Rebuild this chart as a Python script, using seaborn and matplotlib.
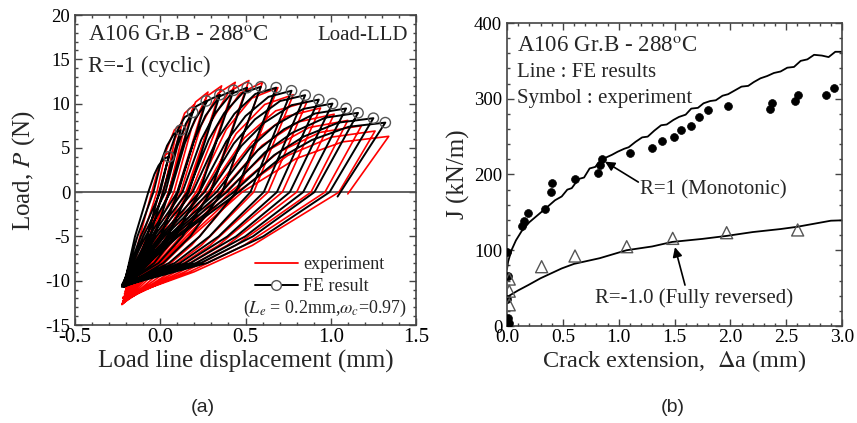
import matplotlib
matplotlib.use("Agg")
import matplotlib.pyplot as plt
import matplotlib.ticker as plticker
from matplotlib.lines import Line2D
import seaborn as sns

sns.set_style("ticks")
plt.rcParams["font.family"] = ["Liberation Serif", "DejaVu Serif"]
plt.rcParams["mathtext.fontset"] = "stix"
plt.rcParams["axes.unicode_minus"] = False
plt.rcParams["axes.edgecolor"] = "#444444"
plt.rcParams["xtick.color"] = "#444444"
plt.rcParams["ytick.color"] = "#444444"
plt.rcParams["xtick.labelcolor"] = "black"
plt.rcParams["ytick.labelcolor"] = "black"

# ---------------- (a) cyclic load - LLD ----------------
# FE result, one row per cycle: start (bottom), loading branch, peak, unloading branch
fe_bot_x = [-0.21, -0.215, -0.22, -0.22, -0.225, -0.225, -0.22, -0.22, -0.215,
            -0.22, -0.225, -0.22, -0.215, -0.22, -0.22, -0.215, -0.22]
fe_bot_y = [-10.3, -10.4, -10.5, -10.6, -10.5, -10.7, -10.6, -10.5, -10.7,
            -10.6, -10.5, -10.6, -10.7, -10.5, -10.6, -10.5, -10.6]
fe_load_x = [[-0.148, -0.07, -0.035, -0.01, 0.02],
             [-0.134, -0.04, 0.006, 0.04, 0.08],
             [-0.114, 0.0, 0.055, 0.095, 0.143],
             [-0.10, 0.03, 0.10, 0.15, 0.21],
             [-0.086, 0.06, 0.144, 0.205, 0.278],
             [-0.066, 0.10, 0.196, 0.265, 0.348],
             [-0.052, 0.13, 0.24, 0.32, 0.415],
             [-0.038, 0.16, 0.285, 0.375, 0.483],
             [-0.023, 0.19, 0.332, 0.435, 0.558],
             [-0.004, 0.23, 0.387, 0.50, 0.635],
             [0.01, 0.26, 0.431, 0.555, 0.703],
             [0.025, 0.29, 0.476, 0.61, 0.77],
             [0.044, 0.33, 0.527, 0.67, 0.84],
             [0.058, 0.36, 0.572, 0.725, 0.908],
             [0.073, 0.39, 0.613, 0.775, 0.968],
             [0.092, 0.43, 0.668, 0.84, 1.045],
             [0.106, 0.46, 0.709, 0.89, 1.105]]
fe_load_y = [[-5, 0, 2.0, 3.0, 3.76],
             [-5, 0, 3.5, 5.25, 6.58],
             [-5, 0, 4.5, 6.75, 8.46],
             [-5, 0, 5.15, 7.73, 9.68],
             [-5, 0, 5.5, 8.25, 10.34],
             [-5, 0, 5.75, 8.63, 10.81],
             [-5, 0, 5.9, 8.85, 11.09],
             [-5, 0, 5.95, 8.93, 11.19],
             [-5, 0, 5.9, 8.85, 11.09],
             [-5, 0, 5.73, 8.59, 10.76],
             [-5, 0, 5.48, 8.21, 10.29],
             [-5, 0, 5.23, 7.84, 9.82],
             [-5, 0, 5.0, 7.5, 9.4],
             [-5, 0, 4.73, 7.09, 8.88],
             [-5, 0, 4.48, 6.71, 8.41],
             [-5, 0, 4.18, 6.26, 7.85],
             [-5, 0, 3.93, 5.89, 7.38]]
fe_peak_x = [0.05, 0.12, 0.19, 0.27, 0.35, 0.43, 0.51, 0.59, 0.68,
             0.77, 0.85, 0.93, 1.01, 1.09, 1.16, 1.25, 1.32]
fe_peak_y = [4.0, 7.0, 9.0, 10.3, 11.0, 11.5, 11.8, 11.9, 11.8,
             11.45, 10.95, 10.45, 10.0, 9.45, 8.95, 8.35, 7.85]
fe_unload_x = [[-0.007, -0.075, -0.133], [0.016, -0.06, -0.124],
               [0.052, -0.035, -0.109], [0.105, 0.001, -0.087],
               [0.167, 0.043, -0.062], [0.23, 0.086, -0.036],
               [0.295, 0.13, -0.01], [0.363, 0.176, 0.018],
               [0.444, 0.231, 0.051], [0.529, 0.289, 0.085],
               [0.607, 0.342, 0.117], [0.684, 0.394, 0.148],
               [0.76, 0.445, 0.179], [0.838, 0.498, 0.211],
               [0.904, 0.543, 0.238], [0.993, 0.604, 0.274],
               [1.04]]
fe_unload_y = [[0, -5, -8]] * 16 + [[-0.5]]

# experiment
exp_bot_x = [-0.20, -0.205, -0.21, -0.21, -0.215, -0.215, -0.22, -0.22, -0.22,
             -0.225, -0.22, -0.225, -0.22, -0.22, -0.215, -0.22, -0.22]
exp_bot_y = [-10.8, -11.2, -11.5, -11.8, -12.0, -12.2, -12.4, -12.5, -12.6,
             -12.7, -12.5, -12.6, -12.4, -12.3, -12.2, -12.0, -11.9]
exp_load_x = [[-0.05, -0.01, 0.025], [-0.02, 0.035, 0.083], [0.02, 0.086, 0.143],
              [0.05, 0.135, 0.207], [0.08, 0.183, 0.272], [0.12, 0.238, 0.339],
              [0.15, 0.286, 0.403], [0.18, 0.335, 0.467], [0.21, 0.387, 0.538],
              [0.25, 0.445, 0.613], [0.28, 0.493, 0.677], [0.31, 0.542, 0.741],
              [0.35, 0.597, 0.808], [0.38, 0.645, 0.872], [0.41, 0.693, 0.937],
              [0.45, 0.748, 1.004], [0.48, 0.796, 1.068]]
exp_load_y = [[0, 2.76, 4.14], [0, 4.68, 7.02], [0, 5.94, 8.91], [0, 6.78, 10.17],
              [0, 7.2, 10.8], [0, 7.44, 11.16], [0, 7.56, 11.34], [0, 7.44, 11.16],
              [0, 7.08, 10.62], [0, 6.6, 9.9], [0, 6.12, 9.18], [0, 5.7, 8.55],
              [0, 5.28, 7.92], [0, 4.86, 7.29], [0, 4.5, 6.75], [0, 4.14, 6.21],
              [0, 3.78, 5.67]]
exp_peak_x = [0.06, 0.13, 0.20, 0.28, 0.36, 0.44, 0.52, 0.60, 0.69,
              0.78, 0.86, 0.94, 1.02, 1.10, 1.18, 1.26, 1.34]
exp_peak_y = [4.6, 7.8, 9.9, 11.3, 12.0, 12.4, 12.6, 12.4, 11.8,
              11.0, 10.2, 9.5, 8.8, 8.1, 7.5, 6.9, 6.3]
exp_unload_x = [[-0.006, -0.092, -0.15], [0.014, -0.08, -0.143],
                [0.048, -0.059, -0.131], [0.099, -0.029, -0.115],
                [0.16, 0.008, -0.095], [0.224, 0.046, -0.074],
                [0.291, 0.087, -0.051], [0.364, 0.13, -0.028],
                [0.454, 0.184, 0.002], [0.548, 0.241, 0.034],
                [0.633, 0.292, 0.062], [0.716, 0.342, 0.089],
                [0.80, 0.392, 0.117], [0.884, 0.442, 0.144],
                [0.966, 0.492, 0.172], [1.048, 0.541, 0.198],
                [1.10]]
exp_unload_y = [[0, -6, -9]] * 16 + [[-0.2]]

# ---------------- (b) J-R curves ----------------
mono_fe_x = [0.0, 0.01, 0.04, 0.08, 0.13, 0.20, 0.28, 0.36, 0.43, 0.49, 0.54, 0.58,
             0.64, 0.69, 0.74, 0.79, 0.84, 0.88, 0.94, 0.99, 1.05, 1.09, 1.15, 1.21,
             1.26, 1.32, 1.38, 1.43, 1.49, 1.54, 1.60, 1.65, 1.71, 1.76, 1.82, 1.87,
             1.93, 1.98, 2.04, 2.10, 2.16, 2.21, 2.27, 2.33, 2.39, 2.45, 2.51, 2.57,
             2.63, 2.69, 2.75, 2.82, 2.88, 2.94, 3.0]
mono_fe_j = [75, 85, 100, 113, 125, 137, 147, 157, 166, 171, 180, 182,
             194, 196, 208, 210, 219, 222, 226, 230, 234, 236, 243, 249,
             250, 258, 265, 266, 272, 276, 279, 287, 288, 294, 297, 298,
             304, 306, 311, 316, 317, 322, 327, 330, 334, 336, 341, 342,
             350, 352, 358, 357, 355, 362, 362]
rev_fe_x = [0.0, 0.02, 0.1, 0.19, 0.3, 0.49, 0.6, 0.83, 1.07, 1.3, 1.48, 1.75,
            1.97, 2.2, 2.45, 2.6, 2.9, 3.0]
rev_fe_j = [36, 40, 47, 54, 63, 76, 82, 89.5, 100, 105, 111, 115,
            119, 124, 128, 131, 139, 139.5]
mono_exp_x = [0.0, 0.005, 0.0, 0.01, 0.015, 0.131, 0.155, 0.191, 0.34, 0.394, 0.40,
              0.609, 0.812, 0.833, 0.848, 1.10, 1.296, 1.385, 1.496, 1.558, 1.645,
              1.72, 1.803, 1.982, 2.355, 2.376, 2.579, 2.609, 2.854, 2.928]
mono_exp_j = [98, 66, 36, 10, 4, 132, 138.6, 148.7, 154, 177.3, 188.4,
              193.6, 201.5, 212.5, 221, 228, 234.6, 244, 249, 258.7, 264.4,
              276.4, 285, 290.4, 286, 294, 297, 305, 305, 314]
rev_exp_x = [0.02, 0.02, 0.02, 0.31, 0.609, 1.072, 1.484, 1.967, 2.603]
rev_exp_j = [62, 46, 28, 78.3, 92.4, 104.7, 115.7, 123.2, 126.8]


def cycle_path(bot_x, bot_y, load_x, load_y, peak_x, peak_y, unload_x, unload_y):
    xs, ys = [], []
    for k in range(len(peak_x)):
        xs += [bot_x[k]] + load_x[k] + [peak_x[k]] + unload_x[k]
        ys += [bot_y[k]] + load_y[k] + [peak_y[k]] + unload_y[k]
    return xs, ys


def style_axes(ax_, fs_x, fs_y):
    ax_.tick_params(which="both", direction="in", top=True, right=True, width=1.0)
    ax_.tick_params(which="major", length=5)
    ax_.tick_params(which="minor", length=2.5)
    ax_.tick_params(axis="x", labelsize=fs_x, pad=2)
    ax_.tick_params(axis="y", labelsize=fs_y, pad=3.5)
    for sp in ax_.spines.values():
        sp.set_linewidth(1.2)


fig = plt.figure(figsize=(8.57, 4.23), dpi=100)

# ---- panel (a)
ax_a = fig.add_axes([75 / 857, 98 / 423, 341 / 857, 310 / 423])
ax_a.axhline(0, color="#555555", lw=1.3, zorder=1)
ex_x, ex_y = cycle_path(exp_bot_x, exp_bot_y, exp_load_x, exp_load_y,
                        exp_peak_x, exp_peak_y, exp_unload_x, exp_unload_y)
sns.lineplot(x=ex_x, y=ex_y, sort=False, estimator=None, ax=ax_a,
             color="#ff0000", lw=1.2, zorder=2)
fe_x, fe_y = cycle_path(fe_bot_x, fe_bot_y, fe_load_x, fe_load_y,
                        fe_peak_x, fe_peak_y, fe_unload_x, fe_unload_y)
sns.lineplot(x=fe_x, y=fe_y, sort=False, estimator=None, ax=ax_a,
             color="black", lw=1.4, zorder=3)
sns.scatterplot(x=fe_peak_x, y=fe_peak_y, ax=ax_a, marker="o", s=55,
                facecolor="none", edgecolor="#555555", linewidth=1.0, zorder=4)
ax_a.set_xlim(-0.5, 1.5)
ax_a.set_ylim(-15, 20)
ax_a.xaxis.set_major_locator(plticker.MultipleLocator(0.5))
ax_a.xaxis.set_minor_locator(plticker.MultipleLocator(0.1))
ax_a.yaxis.set_major_locator(plticker.MultipleLocator(5))
ax_a.yaxis.set_minor_locator(plticker.MultipleLocator(1))
ax_a.xaxis.set_major_formatter(plticker.FormatStrFormatter("%.1f"))
style_axes(ax_a, 15, 13.5)
ax_a.set_xlabel("Load line displacement (mm)", fontsize=18, labelpad=2)
ax_a.set_ylabel("Load, $P$ (N)", fontsize=18, labelpad=6)
ax_a.text(0.038, 0.935, r"A106 Gr.B - 288$^{\mathrm{o}}$C", transform=ax_a.transAxes,
          fontsize=16.5, va="center", ha="left")
ax_a.text(0.038, 0.835, "R=-1 (cyclic)", transform=ax_a.transAxes,
          fontsize=16.5, va="center", ha="left")
ax_a.text(0.977, 0.935, "Load-LLD", transform=ax_a.transAxes,
          fontsize=15, va="center", ha="right")
handles = [Line2D([], [], color="#ff0000", lw=1.3),
           Line2D([], [], color="black", lw=1.4, marker="o", markersize=7,
                  markerfacecolor="white", markeredgecolor="#555555")]
ax_a.legend(handles, ["experiment", "FE result"], loc="upper left",
            bbox_to_anchor=(0.5, 0.252), frameon=False, fontsize=13,
            handlelength=2.4, handletextpad=0.3, borderpad=0, labelspacing=0.3)
ax_a.text(0.975, 0.055, r"($L_e$ = 0.2mm,$\omega_c$=0.97)", transform=ax_a.transAxes,
          fontsize=13, va="center", ha="right")

# ---- panel (b)
ax_b = fig.add_axes([507 / 857, 97 / 423, 335 / 857, 303 / 423])
sns.lineplot(x=mono_fe_x, y=mono_fe_j, sort=False, estimator=None, ax=ax_b,
             color="black", lw=1.3)
sns.lineplot(x=rev_fe_x, y=rev_fe_j, sort=False, estimator=None, ax=ax_b,
             color="black", lw=1.3)
sns.scatterplot(x=mono_exp_x, y=mono_exp_j, ax=ax_b, marker="o", s=32,
                color="black", edgecolor="black", linewidth=0.5, zorder=4)
sns.scatterplot(x=rev_exp_x, y=rev_exp_j, ax=ax_b, marker="^", s=75,
                facecolor="none", edgecolor="#555555", linewidth=1.0, zorder=4)
ax_b.set_xlim(0, 3.0)
ax_b.set_ylim(0, 400)
ax_b.xaxis.set_major_locator(plticker.MultipleLocator(0.5))
ax_b.xaxis.set_minor_locator(plticker.MultipleLocator(0.1))
ax_b.yaxis.set_major_locator(plticker.MultipleLocator(100))
ax_b.yaxis.set_minor_locator(plticker.MultipleLocator(20))
ax_b.xaxis.set_major_formatter(plticker.FormatStrFormatter("%.1f"))
style_axes(ax_b, 14, 13.5)
ax_b.set_xlabel(r"Crack extension,  $\Delta$a (mm)", fontsize=17.5, labelpad=2)
ax_b.set_ylabel("J (kN/m)", fontsize=18, labelpad=3)
ax_b.text(0.03, 0.924, r"A106 Gr.B - 288$^{\mathrm{o}}$C", transform=ax_b.transAxes,
          fontsize=16.5, va="center", ha="left")
ax_b.text(0.03, 0.838, "Line : FE results", transform=ax_b.transAxes,
          fontsize=15, va="center", ha="left")
ax_b.text(0.03, 0.752, "Symbol : experiment", transform=ax_b.transAxes,
          fontsize=15, va="center", ha="left")
arrow_kw = dict(arrowstyle="-|>", color="black", lw=1.2, mutation_scale=14,
                shrinkA=0, shrinkB=0)
ax_b.annotate("", xy=(0.878, 217), xytext=(1.176, 190), arrowprops=arrow_kw)
ax_b.text(1.19, 180, "R=1 (Monotonic)", fontsize=15, va="center", ha="left")
ax_b.annotate("", xy=(1.504, 104), xytext=(1.594, 54), arrowprops=arrow_kw)
ax_b.text(0.79, 37, "R=-1.0 (Fully reversed)", fontsize=15, va="center", ha="left")

fig.text(203 / 857, 1 - 407 / 423, "(a)", ha="center", va="center",
         fontsize=14, family="Liberation Sans")
fig.text(673 / 857, 1 - 407 / 423, "(b)", ha="center", va="center",
         fontsize=14, family="Liberation Sans")

fig.savefig("out.png", dpi=100)
